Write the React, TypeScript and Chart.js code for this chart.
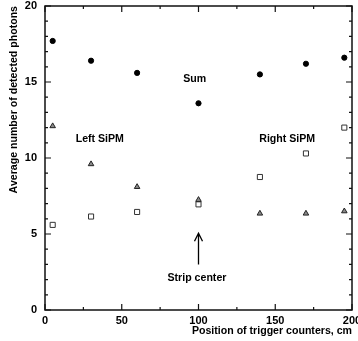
import React, { useEffect, useRef } from 'react';
import { Chart, registerables } from 'chart.js';

Chart.register(...registerables);

const positions = [5, 30, 60, 100, 140, 170, 195];
const sumPhotons = [17.7, 16.4, 15.6, 13.6, 15.5, 16.2, 16.6];
const leftSiPM = [12.1, 9.6, 8.1, 7.25, 6.35, 6.35, 6.5];
const rightSiPM = [5.6, 6.15, 6.45, 6.95, 8.75, 10.3, 12.0];

const xRange = [0, 200];
const yRange = [0, 20];
const xMajorStep = 50;
const xMinorStep = 25;
const yMajorStep = 5;
const yMinorStep = 1;

const xTitle = 'Position of trigger counters, cm';
const yTitle = 'Average number of detected photons';

const labelTexts = ['Sum', 'Left SiPM', 'Right SiPM', 'Strip center'];
const labelX = [97.5, 35.7, 157.8, 99];
const labelY = [15.2, 11.25, 11.23, 2.1];

const arrowX = 100;
const arrowFromY = 3.0;
const arrowToY = 5.05;

const FONT = "'Liberation Sans', Arial, Helvetica, sans-serif";

const framePlugin = {
  id: 'frameTicks',
  afterDatasetsDraw(chart: any) {
    const { ctx, chartArea } = chart;
    const xs = chart.scales.x;
    const ys = chart.scales.y;
    const { left, right, top, bottom } = chartArea;
    ctx.save();
    ctx.strokeStyle = '#111';
    ctx.lineWidth = 1.5;
    ctx.strokeRect(left, top, right - left, bottom - top);
    ctx.lineWidth = 1.2;
    ctx.beginPath();
    for (let v = xRange[0]; v <= xRange[1] + 1e-9; v += xMinorStep) {
      const px = xs.getPixelForValue(v);
      const len = Math.abs(v % xMajorStep) < 1e-9 ? 6 : 3;
      ctx.moveTo(px, bottom);
      ctx.lineTo(px, bottom - len);
      ctx.moveTo(px, top);
      ctx.lineTo(px, top + len);
    }
    for (let v = yRange[0]; v <= yRange[1] + 1e-9; v += yMinorStep) {
      const py = ys.getPixelForValue(v);
      const len = Math.abs(v % yMajorStep) < 1e-9 ? 6 : 3;
      ctx.moveTo(left, py);
      ctx.lineTo(left + len, py);
      ctx.moveTo(right, py);
      ctx.lineTo(right - len, py);
    }
    ctx.stroke();

    ctx.fillStyle = '#000';
    ctx.font = `bold 10.6px ${FONT}`;
    ctx.textAlign = 'center';
    ctx.textBaseline = 'middle';
    labelTexts.forEach((t, i) => {
      ctx.fillText(t, xs.getPixelForValue(labelX[i]), ys.getPixelForValue(labelY[i]));
    });

    const ax = xs.getPixelForValue(arrowX);
    const ay0 = ys.getPixelForValue(arrowFromY);
    const ay1 = ys.getPixelForValue(arrowToY);
    ctx.strokeStyle = '#000';
    ctx.lineWidth = 1.3;
    ctx.beginPath();
    ctx.moveTo(ax, ay0);
    ctx.lineTo(ax, ay1);
    ctx.moveTo(ax - 4, ay1 + 8);
    ctx.lineTo(ax, ay1);
    ctx.lineTo(ax + 4, ay1 + 8);
    ctx.stroke();
    ctx.restore();
  },
};

export default function App() {
  const ref = useRef<HTMLCanvasElement>(null);

  useEffect(() => {
    if (!ref.current) return;
    const toPts = (vals: number[]) => positions.map((x, i) => ({ x, y: vals[i] }));
    const chart = new Chart(ref.current, {
      type: 'scatter',
      data: {
        datasets: [
          {
            label: 'Sum',
            data: toPts(sumPhotons),
            pointStyle: 'circle',
            pointRadius: 2.6,
            backgroundColor: '#000',
            borderColor: '#000',
            borderWidth: 1,
          },
          {
            label: 'Left SiPM',
            data: toPts(leftSiPM),
            pointStyle: 'triangle',
            pointRadius: 3.2,
            backgroundColor: '#8a8a8a',
            borderColor: '#222',
            borderWidth: 1,
          },
          {
            label: 'Right SiPM',
            data: toPts(rightSiPM),
            pointStyle: 'rect',
            pointRadius: 3.6,
            backgroundColor: '#fff',
            borderColor: '#333',
            borderWidth: 1,
          },
        ],
      },
      plugins: [framePlugin],
      options: {
        responsive: false,
        animation: false,
        events: [],
        layout: { padding: { top: 6, right: 6, left: 0, bottom: 0 } },
        plugins: { legend: { display: false }, tooltip: { enabled: false } },
        scales: {
          x: {
            type: 'linear',
            min: xRange[0],
            max: xRange[1],
            grid: { display: false, drawTicks: false },
            border: { display: false },
            ticks: {
              stepSize: xMajorStep,
              color: '#000',
              padding: 4,
              maxRotation: 0,
              font: { family: FONT, size: 11, weight: 'bold' },
            },
            title: {
              display: true,
              text: xTitle,
              align: 'end',
              color: '#000',
              font: { family: FONT, size: 10.6, weight: 'bold' },
              padding: { top: 0, bottom: 4 },
            },
            afterFit: (s: any) => {
              s.height = 31;
              s.paddingLeft = 0;
              s.paddingRight = 0;
            },
          },
          y: {
            type: 'linear',
            min: yRange[0],
            max: yRange[1],
            grid: { display: false, drawTicks: false },
            border: { display: false },
            ticks: {
              stepSize: yMajorStep,
              color: '#000',
              padding: 8,
              font: { family: FONT, size: 11, weight: 'bold' },
            },
            title: {
              display: true,
              text: yTitle,
              align: 'end',
              color: '#000',
              font: { family: FONT, size: 10.6, weight: 'bold' },
              padding: { top: 8, bottom: 0 },
            },
            afterFit: (s: any) => {
              s.width = 45;
              s.paddingTop = 0;
              s.paddingBottom = 0;
            },
          },
        },
      },
    } as any);
    return () => chart.destroy();
  }, []);

  return (
    <div style={{ position: 'absolute', left: 0, top: 0, width: 358, height: 341, background: '#fff' }}>
      <canvas ref={ref} width={358} height={341} style={{ display: 'block' }} />
    </div>
  );
}
